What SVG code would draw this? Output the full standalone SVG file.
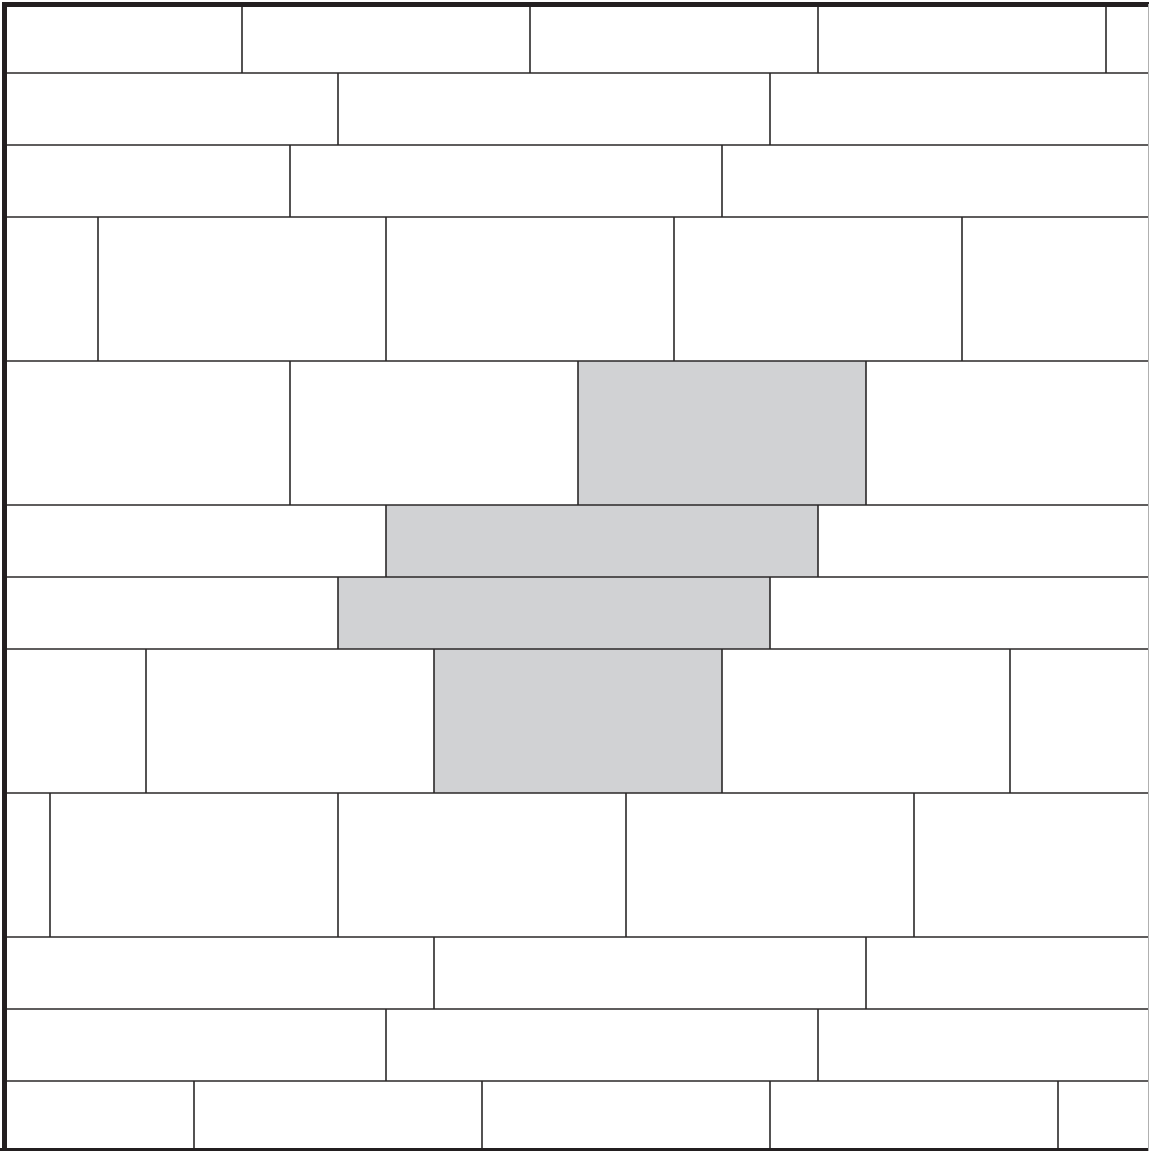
<svg xmlns="http://www.w3.org/2000/svg" width="1149" height="1151" viewBox="0 0 1149 1151">
<style>
.g{fill:#d1d2d4;stroke:none}
.l{stroke:#2b2829;stroke-width:1.6;fill:none}
.b{stroke:#231f20;stroke-width:5;fill:none}
</style>
<rect x="0" y="0" width="1149" height="1151" fill="#ffffff"/>
<g id="gray-tiles">
<rect class="g" x="578" y="361" width="288" height="144"/>
<rect class="g" x="386" y="505" width="432" height="72"/>
<rect class="g" x="338" y="577" width="432" height="72"/>
<rect class="g" x="434" y="649" width="288" height="144"/>
</g>
<g id="joints">
<path class="l" d="M4.5 73H1149M4.5 145H1149M4.5 217H1149M4.5 361H1149M4.5 505H1149M4.5 577H1149M4.5 649H1149M4.5 793H1149M4.5 937H1149M4.5 1009H1149M4.5 1081H1149"/>
<path class="l" d="M242 4V73M530 4V73M818 4V73M1106 4V73
M338 73V145M770 73V145
M290 145V217M722 145V217
M98 217V361M386 217V361M674 217V361M962 217V361
M290 361V505M578 361V505M866 361V505
M386 505V577M818 505V577
M338 577V649M770 577V649
M146 649V793M434 649V793M722 649V793M1010 649V793
M50 793V937M338 793V937M626 793V937M914 793V937
M434 937V1009M866 937V1009
M386 1009V1081M818 1009V1081
M194 1081V1149M482 1081V1149M770 1081V1149M1058 1081V1149"/>
</g>
<g id="border">
<path class="b" d="M4.5 1151V4.5H1149"/>
<path d="M0 1149.5H1149" stroke="#231f20" stroke-width="3"/>
<path d="M1148.5 4V1151" stroke="#b0b0b0" stroke-width="1"/>
</g>
</svg>
